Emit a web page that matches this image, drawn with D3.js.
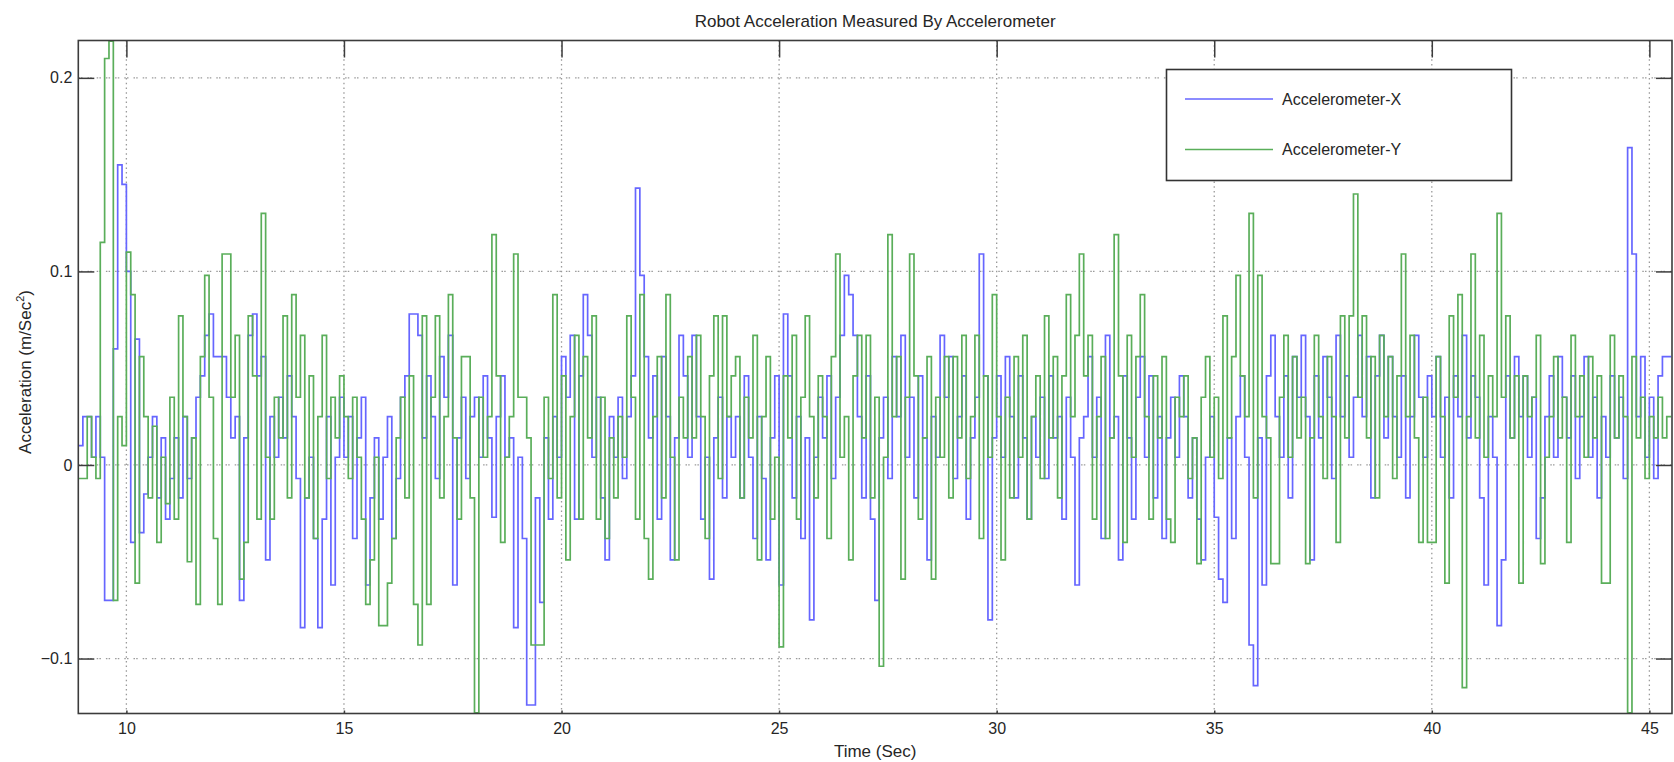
<!DOCTYPE html>
<html>
<head>
<meta charset="utf-8">
<script src="https://cdn.jsdelivr.net/npm/d3@7"></script>
<style>
  html, body { margin: 0; padding: 0; background: #fff; }
  svg { display: block; font-family: "Liberation Sans", Arial, Helvetica, sans-serif; }
</style>
</head>
<body>
<svg id="chart" width="1674" height="762"></svg>
<script>
// Sampling of both accelerometer channels
const T0 = 8.9;   // time of first sample (s)
const DT = 0.1;   // sample period (s)

// Accelerometer X (m/s^2), one row per second
const accX = [
  0.010,
  0.025, 0.025, 0.004, 0.025, 0.004, -0.070, -0.070, 0.060, 0.155, 0.145,
  0.100, -0.040, 0.065, -0.035, -0.015, 0.004, 0.025, -0.017, 0.014, -0.028,
  -0.007, 0.014, -0.017, 0.025, -0.007, 0.014, 0.035, 0.046, 0.067, 0.078,
  0.056, 0.056, 0.056, 0.035, 0.014, 0.025, -0.070, 0.014, 0.067, 0.078,
  0.046, 0.056, -0.049, 0.025, 0.004, 0.035, 0.014, 0.046, 0.025, -0.007,
  -0.084, -0.017, 0.004, -0.038, -0.084, -0.028, 0.025, -0.062, 0.004, 0.035,
  0.004, 0.025, -0.038, 0.014, 0.035, -0.062, -0.017, 0.014, -0.028, 0.004,
  0.025, -0.038, -0.007, 0.035, 0.046, 0.078, 0.078, 0.067, 0.014, 0.046,
  0.025, -0.007, 0.056, 0.035, 0.067, -0.062, 0.014, 0.035, -0.007, 0.025,
  0.035, 0.004, 0.046, 0.014, -0.027, 0.025, 0.046, 0.004, 0.014, -0.084,
  0.004, -0.038, -0.124, -0.124, -0.017, -0.071, 0.014, -0.028, 0.025, 0.004,
  0.056, 0.035, 0.067, -0.028, 0.046, 0.088, 0.067, 0.004, 0.035, -0.017,
  -0.049, 0.025, 0.004, 0.035, -0.007, 0.025, 0.046, 0.143, 0.098, 0.056,
  0.014, 0.046, -0.028, 0.056, 0.025, -0.049, 0.014, 0.067, 0.046, 0.004,
  0.067, 0.025, -0.028, 0.004, -0.059, 0.014, 0.035, -0.017, 0.025, 0.004,
  0.025, -0.017, 0.046, 0.004, -0.038, 0.025, -0.007, -0.049, 0.014, 0.046,
  -0.062, 0.078, 0.046, -0.017, 0.025, -0.038, 0.014, -0.080, 0.004, 0.035,
  0.014, 0.046, -0.007, 0.035, 0.067, 0.098, 0.088, 0.067, 0.025, -0.017,
  0.046, -0.028, -0.070, 0.014, 0.035, -0.007, 0.056, 0.025, 0.067, 0.004,
  0.035, -0.017, 0.046, 0.014, -0.049, 0.025, 0.004, 0.067, 0.035, 0.056,
  -0.007, 0.025, 0.046, -0.028, 0.014, 0.035, 0.109, 0.046, -0.080, 0.014,
  0.046, 0.004, 0.056, 0.025, -0.017, 0.046, 0.014, -0.028, 0.025, 0.004,
  0.035, -0.007, 0.046, 0.014, 0.025, -0.028, 0.035, 0.004, -0.062, 0.014,
  0.025, 0.056, 0.004, 0.035, -0.038, 0.067, 0.014, 0.025, -0.049, 0.046,
  0.014, -0.028, 0.035, 0.056, 0.004, 0.046, -0.017, 0.025, -0.038, 0.014,
  0.035, 0.004, 0.046, 0.025, -0.017, 0.014, -0.028, -0.049, 0.004, 0.025,
  -0.027, -0.059, -0.071, 0.014, -0.038, 0.025, 0.046, 0.004, -0.093, -0.114,
  0.014, -0.062, 0.046, 0.067, 0.025, 0.004, 0.046, -0.017, 0.056, 0.035,
  0.067, 0.025, -0.049, 0.046, 0.014, 0.056, 0.035, -0.007, 0.067, 0.025,
  0.046, 0.004, 0.035, 0.067, 0.025, 0.056, -0.017, 0.046, 0.067, 0.014,
  0.056, 0.025, 0.004, 0.046, -0.017, 0.025, 0.067, 0.035, 0.004, 0.046,
  0.025, 0.056, 0.004, 0.035, -0.017, 0.046, 0.025, 0.067, 0.014, 0.046,
  0.035, -0.017, -0.062, 0.025, 0.004, -0.083, -0.049, 0.046, 0.014, 0.056,
  0.025, 0.046, 0.004, 0.035, -0.038, -0.017, 0.025, 0.046, 0.004, 0.056,
  0.035, 0.014, 0.046, -0.007, 0.025, 0.056, 0.004, 0.035, -0.017, 0.025,
  0.004, 0.046, 0.014, 0.035, -0.007, 0.164, 0.109, 0.025, 0.056, 0.004,
  0.035, -0.007, 0.046, 0.056, 0.056, 0.056
];

// Accelerometer Y (m/s^2), one row per second
const accY = [
  -0.007,
  -0.007, 0.025, 0.004, -0.007, 0.115, 0.210, 0.219, -0.070, 0.025, 0.010,
  0.110, 0.088, -0.061, 0.056, 0.025, -0.017, 0.020, -0.040, 0.004, -0.020,
  0.035, -0.028, 0.077, 0.025, -0.050, 0.014, -0.072, 0.056, 0.098, 0.035,
  -0.038, -0.072, 0.109, 0.109, 0.035, 0.067, -0.059, -0.040, 0.077, 0.046,
  -0.028, 0.130, 0.004, -0.028, 0.035, 0.014, 0.077, -0.017, 0.088, 0.035,
  0.067, -0.017, 0.046, -0.038, 0.025, 0.067, -0.007, 0.035, 0.014, 0.046,
  0.025, -0.007, 0.035, 0.004, -0.028, -0.072, -0.049, 0.004, -0.083, -0.083,
  -0.061, -0.038, 0.014, 0.035, -0.017, 0.046, -0.072, -0.093, 0.077, -0.072,
  0.035, 0.077, -0.017, 0.025, 0.088, 0.014, -0.028, 0.056, 0.056, -0.017,
  -0.128, 0.035, 0.004, 0.025, 0.119, 0.046, -0.040, 0.004, 0.025, 0.109,
  0.035, 0.035, 0.014, -0.093, -0.093, -0.093, 0.035, -0.007, 0.088, -0.017,
  0.046, -0.049, 0.025, 0.067, -0.028, 0.056, 0.014, 0.077, -0.028, 0.035,
  -0.038, 0.014, -0.017, 0.025, 0.004, 0.077, 0.035, -0.028, 0.088, -0.038,
  -0.059, 0.025, 0.056, -0.017, 0.088, 0.004, -0.049, 0.035, 0.014, 0.056,
  0.014, 0.067, 0.025, -0.038, 0.046, 0.077, -0.007, 0.077, 0.025, 0.046,
  0.056, -0.017, 0.035, 0.014, 0.067, -0.049, 0.025, 0.056, -0.028, 0.004,
  -0.094, 0.046, 0.014, 0.067, -0.028, 0.035, 0.077, 0.025, -0.017, 0.046,
  0.025, -0.038, 0.056, 0.109, 0.004, 0.025, -0.049, 0.046, 0.067, 0.014,
  0.067, -0.017, 0.035, -0.104, 0.004, 0.119, 0.025, 0.056, -0.059, 0.035,
  0.109, 0.046, -0.028, 0.014, 0.056, -0.059, 0.035, 0.004, 0.056, -0.017,
  0.056, 0.014, 0.067, -0.007, 0.025, 0.067, -0.038, 0.046, 0.004, 0.088,
  0.025, -0.049, 0.035, -0.017, 0.056, 0.004, 0.067, -0.028, 0.025, 0.046,
  -0.007, 0.077, 0.014, 0.056, -0.017, 0.046, 0.088, 0.025, 0.067, 0.109,
  0.046, 0.067, -0.028, 0.025, 0.056, -0.038, 0.014, 0.119, 0.046, -0.040,
  0.067, 0.004, 0.056, 0.088, 0.025, -0.028, 0.046, 0.014, 0.056, -0.028,
  -0.040, 0.035, 0.025, 0.046, -0.007, 0.014, -0.051, 0.035, 0.056, 0.004,
  0.035, -0.007, 0.077, 0.014, 0.056, 0.098, 0.046, 0.025, 0.130, -0.017,
  0.098, 0.025, 0.014, -0.051, -0.051, 0.035, 0.067, 0.004, 0.056, 0.014,
  0.035, -0.051, 0.014, 0.067, 0.025, -0.007, 0.056, 0.025, -0.040, 0.077,
  0.014, 0.077, 0.140, 0.035, 0.077, 0.014, 0.056, -0.017, 0.067, 0.025,
  0.056, -0.007, 0.046, 0.109, 0.025, 0.067, 0.014, -0.040, 0.035, -0.040,
  -0.040, 0.056, 0.025, -0.061, 0.077, 0.035, 0.088, -0.115, 0.025, 0.109,
  0.014, 0.067, 0.004, 0.046, 0.025, 0.130, 0.035, 0.077, 0.014, 0.046,
  -0.061, 0.046, 0.025, 0.035, 0.067, -0.051, 0.004, 0.025, 0.056, 0.014,
  0.035, -0.040, 0.067, 0.025, 0.046, 0.004, 0.056, 0.014, 0.046, -0.061,
  -0.061, 0.067, 0.014, 0.046, 0.025, -0.128, 0.056, 0.014, 0.035, -0.007,
  0.025, 0.014, 0.035, 0.014, 0.025, 0.025
];

const seriesNames = ["Accelerometer-X", "Accelerometer-Y"];
const seriesColors = ["#6666ff", "#5aae5a"];
const xTickValues = [10, 15, 20, 25, 30, 35, 40, 45];
const yTickValues = [-0.1, 0, 0.1, 0.2];
const xDomain = [8.895, 45.52];
const yDomain = [-0.1284, 0.2193];

const titleText = "Robot Acceleration Measured By Accelerometer";
const xLabelText = "Time (Sec)";

// ---- layout ----
const plot = { left: 78.3, right: 1672, top: 40.5, bottom: 713.5 };
const textColor = "#262626";
const tickFont = 16;
const labelFont = 17;

const svg = d3.select("#chart");

const x = d3.scaleLinear().domain(xDomain).range([plot.left, plot.right]);
const y = d3.scaleLinear().domain(yDomain).range([plot.bottom, plot.top]);

// white axes background
svg.append("rect")
  .attr("x", plot.left).attr("y", plot.top)
  .attr("width", plot.right - plot.left).attr("height", plot.bottom - plot.top)
  .attr("fill", "#fff");

// dotted grid
const grid = svg.append("g").attr("class", "grid");
grid.selectAll("line.vg").data(xTickValues).join("line")
  .attr("class", "vg")
  .attr("x1", d => x(d)).attr("x2", d => x(d))
  .attr("y1", plot.top).attr("y2", plot.bottom)
  .attr("stroke", "#9a9a9a").attr("stroke-width", 1.3)
  .attr("stroke-dasharray", "1.5,3.2");
grid.selectAll("line.hg").data(yTickValues).join("line")
  .attr("class", "hg")
  .attr("x1", plot.left).attr("x2", plot.right)
  .attr("y1", d => y(d)).attr("y2", d => y(d))
  .attr("stroke", "#9a9a9a").attr("stroke-width", 1.3)
  .attr("stroke-dasharray", "1.5,1.2,1.5,5");

// step traces
svg.append("clipPath").attr("id", "plotClip")
  .append("rect")
  .attr("x", plot.left).attr("y", plot.top - 1)
  .attr("width", plot.right - plot.left).attr("height", plot.bottom - plot.top + 2);

const stairs = d3.line()
  .x(d => x(d.t))
  .y(d => y(d.v))
  .curve(d3.curveStepAfter);

const series = [accX, accY].map((vals, k) => ({
  name: seriesNames[k],
  color: seriesColors[k],
  points: vals.map((v, i) => ({ t: T0 + i * DT, v }))
}));

svg.append("g").attr("clip-path", "url(#plotClip)")
  .selectAll("path").data(series).join("path")
  .attr("d", d => stairs(d.points))
  .attr("fill", "none")
  .attr("stroke", d => d.color)
  .attr("stroke-width", 1.7)
  .attr("stroke-linejoin", "miter");

// axes: MATLAB-style inward ticks on all four sides
const axisColor = "#3c3c3c";
function styleAxis(g) {
  g.select(".domain").remove();
  g.selectAll(".tick line").attr("stroke", axisColor).attr("stroke-width", 1.5);
  g.selectAll(".tick text")
    .attr("fill", textColor)
    .style("font-size", tickFont + "px")
    .style("font-family", "\"Liberation Sans\", Arial, sans-serif");
}

svg.append("g")
  .attr("transform", `translate(0,${plot.bottom})`)
  .call(d3.axisBottom(x).tickValues(xTickValues).tickFormat(d3.format("d"))
    .tickSizeInner(-3).tickSizeOuter(0).tickPadding(9))
  .call(styleAxis);

svg.append("g")
  .attr("transform", `translate(0,${plot.top})`)
  .call(d3.axisTop(x).tickValues(xTickValues).tickFormat("")
    .tickSizeInner(-17).tickSizeOuter(0))
  .call(styleAxis);

svg.append("g")
  .attr("transform", `translate(${plot.left},0)`)
  .call(d3.axisLeft(y).tickValues(yTickValues).tickFormat(d => d === 0 ? "0" : d3.format(".1f")(d))
    .tickSizeInner(-16).tickSizeOuter(0).tickPadding(6))
  .call(styleAxis);

svg.append("g")
  .attr("transform", `translate(${plot.right},0)`)
  .call(d3.axisRight(y).tickValues(yTickValues).tickFormat("")
    .tickSizeInner(-16).tickSizeOuter(0))
  .call(styleAxis);

// axes box
svg.append("rect")
  .attr("x", plot.left).attr("y", plot.top)
  .attr("width", plot.right - plot.left).attr("height", plot.bottom - plot.top)
  .attr("fill", "none").attr("stroke", axisColor).attr("stroke-width", 1.6);

// title and axis labels
svg.append("text")
  .attr("x", (plot.left + plot.right) / 2).attr("y", 27)
  .attr("text-anchor", "middle")
  .attr("fill", textColor).style("font-size", "17px")
  .text(titleText);

svg.append("text")
  .attr("x", (plot.left + plot.right) / 2).attr("y", 757)
  .attr("text-anchor", "middle")
  .attr("fill", textColor).style("font-size", labelFont + "px")
  .text(xLabelText);

const yLabel = svg.append("text")
  .attr("transform", `translate(31,${(plot.top + plot.bottom) / 2 - 5}) rotate(-90)`)
  .attr("text-anchor", "middle")
  .attr("fill", textColor).style("font-size", labelFont + "px");
yLabel.append("tspan").text("Acceleration (m/Sec");
yLabel.append("tspan").attr("dy", -7).style("font-size", "11px").text("2");
yLabel.append("tspan").attr("dy", 7).text(")");

// legend
const legend = { x: 1166.5, y: 69.5, w: 345, h: 111 };
const lg = svg.append("g");
lg.append("rect")
  .attr("x", legend.x).attr("y", legend.y)
  .attr("width", legend.w).attr("height", legend.h)
  .attr("fill", "#fff").attr("stroke", "#333").attr("stroke-width", 1.6);
const rows = lg.selectAll("g.row").data(series).join("g")
  .attr("class", "row")
  .attr("transform", (d, i) => `translate(0,${99 + i * 50.5})`);
rows.append("line")
  .attr("x1", 1185).attr("x2", 1273)
  .attr("stroke", d => d.color).attr("stroke-width", 1.7);
rows.append("text")
  .attr("x", 1282).attr("y", 5.5)
  .attr("fill", textColor).style("font-size", "16px")
  .text(d => d.name);
</script>
</body>
</html>
